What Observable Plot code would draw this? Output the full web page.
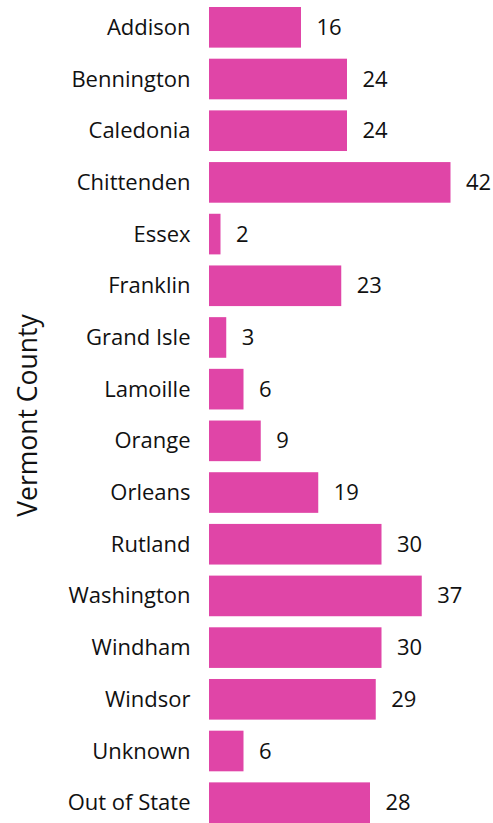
<!DOCTYPE html>
<html>
<head>
<meta charset="utf-8">
<script src="https://cdn.jsdelivr.net/npm/d3@7"></script>
<script src="https://cdn.jsdelivr.net/npm/@observablehq/plot@0.6"></script>
<style>
  html, body { margin: 0; padding: 0; background: #fff; }
  #chart svg { display: block; }
</style>
</head>
<body>
<div id="chart"></div>
<script>
const counties = ["Addison", "Bennington", "Caledonia", "Chittenden", "Essex", "Franklin", "Grand Isle", "Lamoille", "Orange", "Orleans", "Rutland", "Washington", "Windham", "Windsor", "Unknown", "Out of State"];
const counts = [16, 24, 24, 42, 2, 23, 3, 6, 9, 19, 30, 37, 30, 29, 6, 28];
const axisTitle = "Vermont County";

const data = counties.map((c, i) => ({county: c, count: counts[i]}));

const chart = Plot.plot({
  width: 493,
  height: 823,
  marginLeft: 209,
  marginRight: 42.5,
  marginTop: 7,
  marginBottom: 0,
  style: {fontFamily: "'Open Sans', 'Noto Sans', sans-serif", color: "#111", background: "#fff"},
  x: {domain: [0, 42], axis: null},
  y: {domain: counties, paddingInner: 0.214, paddingOuter: 0, round: false, label: null},
  marks: [
    Plot.barX(data, {x: "count", y: "county", fill: "#E045A7"}),
    Plot.text(data, {x: "count", y: "county", text: d => String(d.count), textAnchor: "start", dx: 15, fontSize: 22, fill: "#111"}),
    Plot.axisY({tickSize: 0, tickPadding: 19, fontSize: 22, label: null}),
    Plot.text([axisTitle], {frameAnchor: "left", textAnchor: "middle", rotate: -90, dx: -181, fontSize: 26.5, fill: "#111"})
  ]
});
document.getElementById("chart").appendChild(chart);
</script>
</body>
</html>
